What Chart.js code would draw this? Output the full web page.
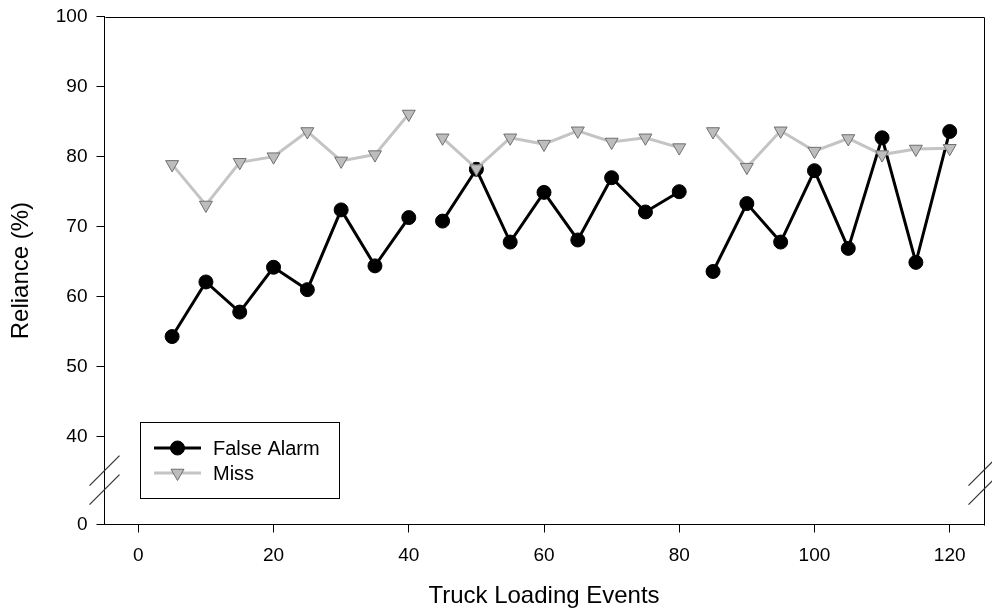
<!DOCTYPE html>
<html lang="en">
<head>
    <meta charset="UTF-8">
    <title>Reliance by Truck Loading Events</title>
    <style>
        body {
            margin: 0;
            background: #fff;
        }

        #chart-container {
            width: 992px;
            height: 611px;
        }
    </style>
</head>
<body>
    <div id="chart-container">
        <canvas id="reliance-chart"></canvas>
    </div>

    <script src="https://cdn.jsdelivr.net/npm/chart.js"></script>
    <script>
        // truck loading events (x) and reliance (%) per series
        const events = [5, 10, 15, 20, 25, 30, 35, 40, 45, 50, 55, 60, 65, 70, 75, 80, 85, 90, 95, 100, 105, 110, 115, 120];
        const falseAlarm = [54.3, 62.1, 57.8, 64.2, 61.0, 72.4, 64.4, 71.3, 70.8, 78.2, 67.8, 74.9, 68.1, 77.0, 72.1, 75.0, 63.6, 73.3, 67.8, 78.0, 66.9, 82.7, 64.9, 83.6];
        const miss = [78.9, 73.1, 79.2, 80.0, 83.6, 79.4, 80.3, 86.1, 82.7, 78.3, 82.7, 81.8, 83.7, 82.1, 82.7, 81.3, 83.6, 78.5, 83.7, 80.8, 82.6, 80.3, 81.1, 81.2];
        // the lines are broken after these events
        const sessionEnds = [40, 80];

        const xTicks = [0, 20, 40, 60, 80, 100, 120];
        const yTicks = [40, 50, 60, 70, 80, 90, 100];
        // the y axis is broken: the bottom of the axis stands for 0
        const yBreakValue = 27.45;
        const yBreakLabel = '0';

        const FONT = "'Liberation Sans', Arial, Helvetica, sans-serif";

        const gapSegment = {
            borderColor: ctx => sessionEnds.includes(ctx.p0.parsed.x) ? 'rgba(0,0,0,0)' : undefined
        };

        const decorPlugin = {
            id: 'decor',
            afterDraw(chart) {
                const { ctx, chartArea: a, scales } = chart;
                ctx.save();

                // top and right frame
                ctx.strokeStyle = '#000';
                ctx.lineWidth = 1;
                ctx.beginPath();
                ctx.moveTo(Math.round(a.left) + 0.5, Math.round(a.top) + 0.5);
                ctx.lineTo(Math.round(a.right) + 0.5, Math.round(a.top) + 0.5);
                ctx.lineTo(Math.round(a.right) + 0.5, Math.round(a.bottom) + 0.5);
                ctx.stroke();

                // axis break marks
                const p40 = scales.y.getPixelForValue(yTicks[0]);
                const mid = (p40 + a.bottom) / 2;
                ctx.strokeStyle = '#333';
                ctx.lineWidth = 1.2;
                [a.left, a.right].forEach(cx => {
                    [mid - 10, mid + 9].forEach(cy => {
                        ctx.beginPath();
                        ctx.moveTo(cx - 15, cy + 15);
                        ctx.lineTo(cx + 15, cy - 15);
                        ctx.stroke();
                    });
                });

                // legend box
                const box = { x: 140.5, y: 422.5, w: 199, h: 76 };
                ctx.fillStyle = '#fff';
                ctx.fillRect(box.x, box.y, box.w, box.h);
                ctx.strokeStyle = '#000';
                ctx.lineWidth = 1;
                ctx.strokeRect(box.x, box.y, box.w, box.h);

                const rows = [
                    { label: 'False Alarm', ds: chart.data.datasets[0], y: 448 },
                    { label: 'Miss', ds: chart.data.datasets[1], y: 473 }
                ];
                rows.forEach(r => {
                    ctx.strokeStyle = r.ds.borderColor;
                    ctx.lineWidth = r.ds.borderWidth;
                    ctx.beginPath();
                    ctx.moveTo(154, r.y);
                    ctx.lineTo(201, r.y);
                    ctx.stroke();
                    ctx.fillStyle = r.ds.pointBackgroundColor;
                    ctx.strokeStyle = r.ds.pointBorderColor;
                    ctx.lineWidth = r.ds.pointBorderWidth;
                    Chart.helpers.drawPoint(ctx, {
                        pointStyle: r.ds.pointStyle,
                        rotation: r.ds.pointRotation || 0,
                        radius: r.ds.pointRadius,
                        borderWidth: r.ds.pointBorderWidth
                    }, 177.5, r.y);
                    ctx.fillStyle = '#000';
                    ctx.font = '20px ' + FONT;
                    ctx.textBaseline = 'middle';
                    ctx.textAlign = 'left';
                    ctx.fillText(r.label, 213, r.y + 1);
                });

                ctx.restore();
            }
        };

        const chartCtx = document.getElementById('reliance-chart').getContext('2d');

        new Chart(chartCtx, {
            type: 'line',
            data: {
                datasets: [
                    {
                        label: 'False Alarm',
                        data: events.map((x, i) => ({ x: x, y: falseAlarm[i] })),
                        borderColor: '#000',
                        borderWidth: 3,
                        pointStyle: 'circle',
                        pointRadius: 7,
                        pointBackgroundColor: '#000',
                        pointBorderColor: '#000',
                        pointBorderWidth: 1,
                        tension: 0,
                        order: 2,
                        segment: gapSegment
                    },
                    {
                        label: 'Miss',
                        data: events.map((x, i) => ({ x: x, y: miss[i] })),
                        borderColor: '#c4c4c4',
                        borderWidth: 3,
                        pointStyle: 'triangle',
                        pointRotation: 180,
                        pointRadius: 7.5,
                        pointBackgroundColor: '#bdbdbd',
                        pointBorderColor: '#6f6f6f',
                        pointBorderWidth: 1,
                        tension: 0,
                        order: 1,
                        segment: gapSegment
                    }
                ]
            },
            options: {
                responsive: true,
                maintainAspectRatio: false,
                animation: false,
                layout: {
                    padding: { top: 16.7, right: 6, left: 0, bottom: 0 }
                },
                plugins: {
                    legend: { display: false },
                    tooltip: { enabled: false }
                },
                scales: {
                    x: {
                        type: 'linear',
                        min: -5,
                        max: 125,
                        afterBuildTicks: s => { s.ticks = xTicks.map(v => ({ value: v })); },
                        afterFit: s => {
                            s.height = 86.5;
                            s.paddingLeft = 0;
                            s.paddingRight = 0;
                        },
                        ticks: {
                            font: { family: FONT, size: 19 },
                            color: '#000',
                            padding: 12,
                            maxRotation: 0
                        },
                        grid: {
                            drawOnChartArea: false,
                            tickLength: 8,
                            tickColor: '#000'
                        },
                        border: { color: '#000', width: 1 },
                        title: {
                            display: true,
                            text: 'Truck Loading Events',
                            font: { family: FONT, size: 24 },
                            color: '#000',
                            padding: { top: 0, bottom: 0 }
                        }
                    },
                    y: {
                        type: 'linear',
                        min: yBreakValue,
                        max: 100,
                        afterBuildTicks: s => { s.ticks = [yBreakValue].concat(yTicks).map(v => ({ value: v })); },
                        afterFit: s => {
                            s.width = 104.5;
                            s.paddingTop = 0;
                            s.paddingBottom = 0;
                        },
                        ticks: {
                            font: { family: FONT, size: 19 },
                            color: '#000',
                            padding: 9,
                            callback: v => v === yBreakValue ? yBreakLabel : v
                        },
                        grid: {
                            drawOnChartArea: false,
                            tickLength: 8,
                            tickColor: '#000'
                        },
                        border: { color: '#000', width: 1 },
                        title: {
                            display: true,
                            text: 'Reliance (%)',
                            font: { family: FONT, size: 24 },
                            color: '#000',
                            padding: { top: 7, bottom: 0 }
                        }
                    }
                }
            },
            plugins: [decorPlugin]
        });
    </script>
</body>
</html>
